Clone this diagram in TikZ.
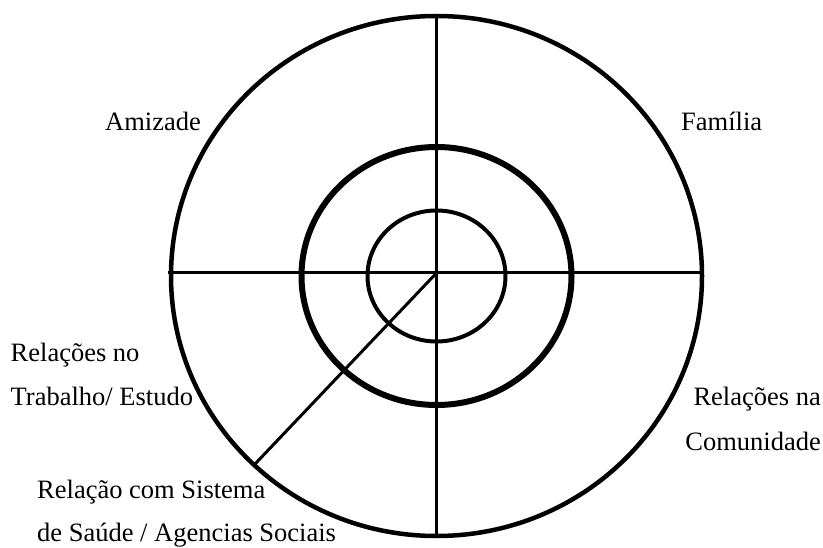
\documentclass[tikz,border=0pt]{standalone}
\usepackage{fontspec}
\setmainfont{Liberation Serif}
\begin{document}
\begin{tikzpicture}[x=1pt,y=-1pt,
  ring/.style={draw=black},
  spoke/.style={draw=black,line width=3pt},
  lbl/.style={inner sep=0pt,font=\fontsize{26.5}{32}\selectfont}]
\useasboundingbox (0,0) rectangle (823,548);
\coordinate (c) at (436.5,276);
\coordinate (h) at (436.5,273);
% circles
\draw[ring,line width=4.5pt] (c) ellipse [x radius=265.5, y radius=260];
\draw[ring,line width=6pt] (c) ellipse [x radius=135, y radius=129];
\draw[ring,line width=4pt] (c) ellipse [x radius=69, y radius=65.5];
% spokes
\coordinate (L) at (168,273);
\coordinate (R) at (700,273);
\coordinate (T) at (436.5,16);
\coordinate (B) at (436.5,537);
\coordinate (D) at (255.5,463.5);
\draw[spoke] (L) -- (R);
\draw[spoke] (T) -- (B);
\draw[spoke] (h) -- (D);
% labels
\node[lbl,anchor=base west] (amiz) at (105,131) {Amizade};
\node[lbl,anchor=base west] (fam) at (681,131) {Família};
\node[lbl,anchor=base west] (trab1) at (10.5,362) {Relações no};
\node[lbl,anchor=base west] (trab2) at (10.5,406) {Trabalho/ Estudo};
\node[lbl,anchor=base east] (com1) at (821,406) {Relações na};
\node[lbl,anchor=base east] (com2) at (821,450) {Comunidade};
\node[lbl,anchor=base west] (sau1) at (37,498) {Relação com Sistema};
\node[lbl,anchor=base west] (sau2) at (37,541) {de Saúde / Agencias Sociais};
\end{tikzpicture}
\end{document}
